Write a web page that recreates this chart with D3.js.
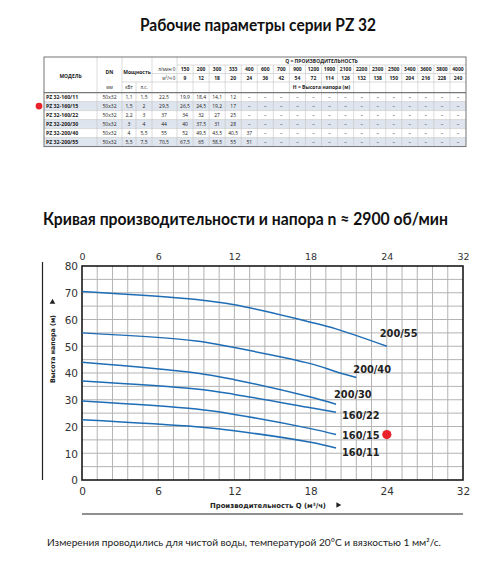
<!DOCTYPE html>
<html><head><meta charset="utf-8">
<script src="https://cdn.jsdelivr.net/npm/d3@7"></script>
<style>html,body{margin:0;padding:0;background:#fff;}svg{display:block;}</style>
</head><body>
<script>
// ---------- DATA ----------
const models = ["PZ 32-160/11","PZ 32-160/15","PZ 32-160/22","PZ 32-200/30","PZ 32-200/40","PZ 32-200/55"];
const dn = ["50x32","50x32","50x32","50x32","50x32","50x32"];
const powerKw = [1.1, 1.5, 2.2, 3, 4, 5.5];
const powerHp = [1.5, 2, 3, 4, 5.5, 7.5];
const flowLmin = [0,150,200,300,333,400,600,700,900,1200,1900,2100,2200,2300,2500,3400,3600,3800,4000];
const flowM3h  = [0,9,12,18,20,24,36,42,54,72,114,126,132,138,150,204,216,228,240];
const heads = [
  [22.5,19.9,18.4,14.1,12],
  [29.5,26.5,24.5,19.2,17],
  [37,34,32,27,25],
  [44,40,37.5,31,28],
  [55,52,49.5,43.5,40.5,37],
  [70.5,67.5,65,58.5,55,51]
];
const highlightedModel = "PZ 32-160/15";

// chart curves
const curveNames = ["160/11","160/15","160/22","200/30","200/40","200/55"];
const curveQ = [
  [0,9,12,18,20],
  [0,9,12,18,20],
  [0,9,12,18,20],
  [0,9,12,18,20],
  [0,9,12,18,20,21.6],
  [0,9,12,18,20,24]
];
const curveH = [
  [22.5,19.9,18.4,14.1,12],
  [29.5,26.5,24.5,19.2,17],
  [37,34,32,27,25.3],
  [44,40,37.5,31,28.3],
  [55,52,49.5,43.5,40.5,38.3],
  [70.5,67.5,65.5,59,56.5,50]
];
const markerPoint = [24, 17];
const xTickValues = [0,6,12,18,24,30];
const xTickLabels = ["0","6","12","18","24","32"];
const yTickValues = [0,10,20,30,40,50,60,70,80];

// ---------- LAYOUT ----------
const W = 500, H = 567;
const svg = d3.select("body").append("svg").attr("width", W).attr("height", H);
const fmt = v => v == null ? "–" : String(v).replace(".", ",");

svg.append("text").attr("x", 258).attr("y", 31).attr("text-anchor","middle")
  .attr("font-family","Lato, 'Open Sans', sans-serif").attr("font-weight","bold")
  .attr("font-size", 16.5).attr("fill","#111")
  .attr("textLength", 236).attr("lengthAdjust","spacingAndGlyphs")
  .text("Рабочие параметры серии PZ 32");

// ---------- TABLE ----------
const T = {x0:44, x1:466, y0:57, yHeadEnd:92.6, y1:146.6};
const hRows = [57,65,73.5,82,92.6];
const flowCols = d3.scaleBand().domain(d3.range(1, flowLmin.length)).range([177, T.x1]);
const rowScale = d3.scaleBand().domain(models).range([T.yHeadEnd, T.y1]);
const tbl = svg.append("g").attr("font-family","'Open Sans', sans-serif").attr("fill","#222");

tbl.selectAll("rect.row").data(models).join("rect")
  .attr("x", T.x0).attr("width", T.x1 - T.x0)
  .attr("y", d => rowScale(d)).attr("height", rowScale.bandwidth())
  .attr("fill", (d,i) => i % 2 === 1 ? "#dfe5ee" : "#ffffff");

const lineC = "#c4c4c4";
function hl(x1,x2,y,c,w){tbl.append("line").attr("x1",x1).attr("x2",x2).attr("y1",y).attr("y2",y).attr("stroke",c||lineC).attr("stroke-width",w||0.6);}
function vl(x,y1,y2,c,w){tbl.append("line").attr("x1",x).attr("x2",x).attr("y1",y1).attr("y2",y2).attr("stroke",c||lineC).attr("stroke-width",w||0.6);}
hl(177, T.x1, hRows[1]);
hl(152, T.x1, hRows[2]);
hl(122, T.x1, hRows[3]);
models.forEach((m,i)=>{ if(i>0) hl(T.x0, T.x1, rowScale(m)); });
vl(97, T.y0, T.y1); vl(122, T.y0, T.y1); vl(136, hRows[3], T.y1); vl(152, T.y0, T.y1); vl(177, T.y0, T.y1);
flowCols.domain().forEach((k,i)=>{ if(i>0) vl(flowCols(k), hRows[1], T.y1); });
hl(T.x0, T.x1, T.yHeadEnd, "#777", 1.2);
tbl.append("rect").attr("x",T.x0).attr("y",T.y0).attr("width",T.x1-T.x0).attr("height",T.y1-T.y0)
  .attr("fill","none").attr("stroke","#666").attr("stroke-width",0.9);

function tx(x,y,s,opt){
  opt = opt||{};
  return tbl.append("text").attr("x",x).attr("y",y).attr("text-anchor",opt.anchor||"middle")
    .attr("dominant-baseline","central").attr("font-size",opt.size||5)
    .attr("font-weight",opt.bold?"bold":"normal").text(s);
}
const midY = (a,b)=>(a+b)/2;
tx(70.5, 75.5, "МОДЕЛЬ", {bold:true, size:5});
tx(109.5, 71.5, "DN", {bold:true, size:5});
tx(137, 71.5, "Мощность", {bold:true, size:5});
tx(109.5, midY(hRows[3],hRows[4]), "мм", {size:4.6});
tx(129, midY(hRows[3],hRows[4]), "кВт", {size:4.6});
tx(144, midY(hRows[3],hRows[4]), "л.с.", {size:4.6});
tx(175.5, midY(hRows[1],hRows[2]), "л/мин 0", {size:4.6, anchor:"end"});
tx(175.5, midY(hRows[2],hRows[3]), "м³/ч 0", {size:4.6, anchor:"end"});
tx((177+T.x1)/2, midY(hRows[0],hRows[1]), "Q = ПРОИЗВОДИТЕЛЬНОСТЬ", {bold:true, size:5});
tx((177+T.x1)/2, midY(hRows[3],hRows[4]), "H = Высота напора (м)", {bold:true, size:5});
flowCols.domain().forEach(k=>{
  const cx = flowCols(k) + flowCols.bandwidth()/2;
  tx(cx, midY(hRows[1],hRows[2]), flowLmin[k], {bold:true, size:5});
  tx(cx, midY(hRows[2],hRows[3]), flowM3h[k], {bold:true, size:5});
});
models.forEach((m,i)=>{
  const cy = rowScale(m) + rowScale.bandwidth()/2;
  tx(46, cy, m, {bold:true, size:5.2, anchor:"start"});
  tx(109.5, cy, dn[i], {size:5});
  tx(129, cy, fmt(powerKw[i]), {size:5});
  tx(144, cy, fmt(powerHp[i]), {size:5});
  tx(164, cy, fmt(heads[i][0]), {size:5});
  flowCols.domain().forEach(k=>{
    const cx = flowCols(k) + flowCols.bandwidth()/2;
    tx(cx, cy, fmt(heads[i][k]), {size:5});
  });
});
svg.append("circle").attr("cx", 39).attr("cy", rowScale(highlightedModel) + rowScale.bandwidth()/2)
  .attr("r", 3.4).attr("fill", "#e8212a");

// ---------- CHART ----------
svg.append("text").attr("x", 245.5).attr("y", 225).attr("text-anchor","middle")
  .attr("font-family","Lato, 'Open Sans', sans-serif").attr("font-weight","bold")
  .attr("font-size", 16.5).attr("fill","#111")
  .attr("textLength", 405).attr("lengthAdjust","spacingAndGlyphs")
  .text("Кривая производительности и напора n ≈ 2900 об/мин");

const P = {l:82, r:463, t:266, b:480};
const x = d3.scaleLinear().domain([0,30]).range([P.l, P.r]);
const y = d3.scaleLinear().domain([0,80]).range([P.b, P.t]);
const g = svg.append("g");

g.append("g").selectAll("line").data(d3.range(1,25).map(i=>i*1.2)).join("line")
  .attr("x1", d=>x(d)).attr("x2", d=>x(d)).attr("y1", P.t).attr("y2", P.b)
  .attr("stroke", "#b3b3b3").attr("stroke-width", 1);
g.append("g").selectAll("line").data(d3.range(1,16).map(i=>i*5)).join("line")
  .attr("y1", d=>y(d)).attr("y2", d=>y(d)).attr("x1", P.l).attr("x2", P.r)
  .attr("stroke", "#b3b3b3").attr("stroke-width", 1);
g.append("rect").attr("x",P.l).attr("y",P.t).attr("width",P.r-P.l).attr("height",P.b-P.t)
  .attr("fill","none").attr("stroke","#1a1a1a").attr("stroke-width",1.6);

const axFont = "'DejaVu Sans', Verdana, sans-serif";
const topAx = g.append("g").attr("transform",`translate(0,${P.t})`)
  .call(d3.axisTop(x).tickValues(xTickValues).tickFormat((d,i)=>xTickLabels[i]).tickSize(0).tickPadding(6.5));
const botAx = g.append("g").attr("transform",`translate(0,${P.b})`)
  .call(d3.axisBottom(x).tickValues(xTickValues).tickFormat((d,i)=>xTickLabels[i]).tickSize(0).tickPadding(8));
const leftAx = g.append("g").attr("transform",`translate(${P.l},0)`)
  .call(d3.axisLeft(y).tickValues(yTickValues).tickSize(0).tickPadding(4));
[topAx, botAx, leftAx].forEach(a=>{ a.select(".domain").remove(); a.selectAll("text").attr("font-family",axFont).attr("fill","#333"); });
topAx.selectAll("text").attr("font-size", 9.5);
botAx.selectAll("text").attr("font-size", 10.5);
leftAx.selectAll("text").attr("font-size", 10.5).attr("dy","0.36em");

const line = d3.line().curve(d3.curveCatmullRom.alpha(0.5)).x(d=>x(d[0])).y(d=>y(d[1]));
const labelOffsets = [[6,8],[6,4],[6,7],[-2,-6],[-3,-5],[-7,-9]];
curveNames.forEach((n,i)=>{
  const pts = curveQ[i].map((q,j)=>[q, curveH[i][j]]);
  g.append("path").attr("d", line(pts)).attr("fill","none").attr("stroke","#1f6db5").attr("stroke-width",1.5);
  const last = pts[pts.length-1];
  g.append("text").attr("x", x(last[0]) + labelOffsets[i][0]).attr("y", y(last[1]) + labelOffsets[i][1])
    .attr("font-family", axFont).attr("font-weight","bold").attr("font-size", 9.8).attr("fill","#222")
    .text(n);
});
g.append("circle").attr("cx", x(markerPoint[0])).attr("cy", y(markerPoint[1])).attr("r", 4.6).attr("fill","#e8212a");

svg.append("line").attr("x1",42.5).attr("x2",42.5).attr("y1",262).attr("y2",480).attr("stroke","#222").attr("stroke-width",1.2);
svg.append("text").attr("transform","translate(55,349) rotate(-90)").attr("text-anchor","middle")
  .attr("font-family",axFont).attr("font-weight","bold").attr("font-size",6.6).attr("fill","#222")
  .attr("textLength", 68).attr("lengthAdjust","spacingAndGlyphs")
  .text("Высота напора (м)");
svg.append("path").attr("d", d3.symbol().type(d3.symbolTriangle).size(14)()).attr("transform","translate(52.5,302)").attr("fill","#222");

svg.append("line").attr("x1",P.l).attr("x2",P.r).attr("y1",514).attr("y2",514).attr("stroke","#222").attr("stroke-width",1.2);
svg.append("text").attr("x", 268).attr("y", 507.5).attr("text-anchor","middle")
  .attr("font-family",axFont).attr("font-weight","bold").attr("font-size",7).attr("fill","#222")
  .attr("textLength", 116).attr("lengthAdjust","spacingAndGlyphs")
  .text("Производительность Q (м³/ч)");
svg.append("path").attr("d", d3.symbol().type(d3.symbolTriangle).size(14)()).attr("transform","translate(338,505) rotate(90)").attr("fill","#222");

svg.append("text").attr("x", 244).attr("y", 546).attr("text-anchor","middle")
  .attr("font-family","Lato, 'Open Sans', sans-serif").attr("font-size", 9).attr("fill","#222")
  .attr("textLength", 394).attr("lengthAdjust","spacingAndGlyphs")
  .text("Измерения проводились для чистой воды, температурой 20°C и вязкостью 1 мм²/с.");
</script>
</body></html>
